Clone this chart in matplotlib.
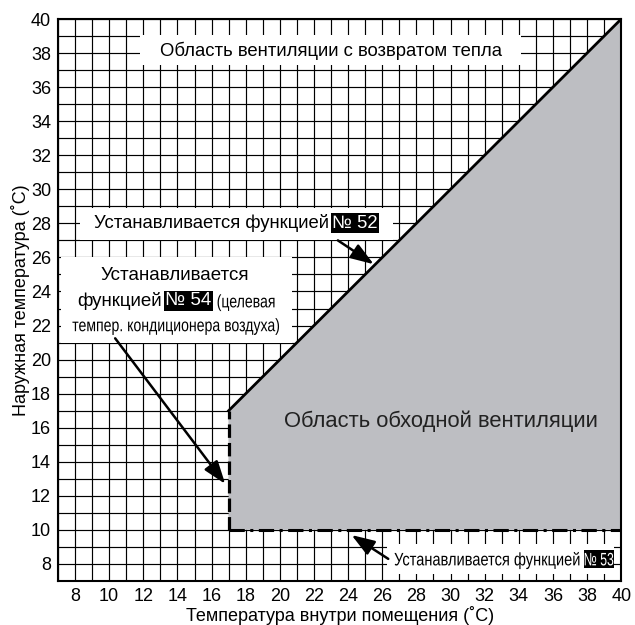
"""Bypass / heat recovery ventilation area chart."""
import matplotlib
matplotlib.use("Agg")
import matplotlib.pyplot as plt
from matplotlib.patches import Rectangle, Polygon, PathPatch
from matplotlib.textpath import TextPath
from matplotlib.font_manager import FontProperties
from matplotlib.transforms import Affine2D, ScaledTranslation

plt.rcParams['font.family'] = ['Liberation Sans', 'DejaVu Sans']

# data
indoor_ticks = list(range(8, 41, 2))
outdoor_ticks = list(range(8, 41, 2))
axis_min, axis_max = 7, 40
indoor_setpoint = 17     # function No 54
outdoor_lower = 10       # function No 53
diag_indoor = [17, 40]   # function No 52 (outdoor = indoor)
diag_outdoor = [17, 40]

fig = plt.figure(figsize=(6.35, 6.25), dpi=100)
ax = fig.add_axes([0.0913, 0.0704, 0.887, 0.8992])
ax.set_xlim(axis_min, axis_max)
ax.set_ylim(axis_min, axis_max)

ax.set_xticks(indoor_ticks)
ax.set_yticks(outdoor_ticks)
ax.set_xticks(range(axis_min, axis_max + 1), minor=True)
ax.set_yticks(range(axis_min, axis_max + 1), minor=True)
ax.tick_params(which='both', length=0, labelsize=13, pad=5)
ax.grid(which='both', color='black', linewidth=0.85, zorder=1)
ax.set_axisbelow(True)
for s in ax.spines.values():
    s.set_linewidth(1.5)
    s.set_zorder(6)

ax.set_xlabel("Температура внутри помещения (˚C)", fontsize=13, labelpad=1)
ax.set_ylabel("Наружная температура (˚C)", fontsize=13, labelpad=1)

# bypass area
poly = Polygon([(indoor_setpoint, outdoor_lower), (diag_indoor[0], diag_outdoor[0]),
                (diag_indoor[1], diag_outdoor[1]), (axis_max, outdoor_lower)],
               closed=True, facecolor='#bdbec2', edgecolor='none', zorder=2)
ax.add_patch(poly)
ax.plot(diag_indoor, diag_outdoor, color='black', lw=2, zorder=3)
ax.plot([indoor_setpoint, indoor_setpoint], [outdoor_lower, diag_outdoor[0]],
        color='black', lw=2.3, linestyle=(0, (4.2, 1.6)), zorder=3)
ax.plot([indoor_setpoint, axis_max], [outdoor_lower, outdoor_lower],
        color='black', lw=2.2, linestyle=(0, (5.0, 1.8, 1.0, 1.8)), zorder=3)

ARROW = dict(arrowstyle='-|>,head_length=1.0,head_width=0.35', color='black',
             lw=1.8, mutation_scale=14, shrinkA=0, shrinkB=0)


def white_box(x0, y0, x1, y1):
    ax.add_patch(Rectangle((x0, y0), x1 - x0, y1 - y0, facecolor='white',
                           edgecolor='none', zorder=4))


def num_label(x, y, s, size):
    ax.text(x, y, s, fontsize=size, color='white', ha='center', va='center',
            zorder=5,
            bbox=dict(boxstyle='square,pad=0.08', facecolor='black', edgecolor='none'))


def narrow_text(x, y, s, size, ha='left', sx=0.78, color='black', box=False):
    """Horizontally condensed text, centred vertically on y."""
    tp = TextPath((0, 0), s, size=size, prop=FontProperties(family='Liberation Sans'))
    ext = tp.get_extents()
    w = ext.width * sx
    dx = {'left': 0, 'center': -w / 2, 'right': -w}[ha] - ext.x0 * sx
    dy = -0.36 * size
    base = Affine2D().scale(1 / 72) + fig.dpi_scale_trans + ScaledTranslation(x, y, ax.transData)
    if box:
        p = 0.06 * size
        ax.add_patch(Rectangle((dx + ext.x0 * sx - p, dy - 0.12 * size),
                               w + 2 * p, 0.98 * size, facecolor='black',
                               edgecolor='none', transform=base, zorder=5))
    ax.add_patch(PathPatch(tp, transform=Affine2D().scale(sx, 1).translate(dx, dy) + base,
                           facecolor=color, edgecolor='none', zorder=5))


# heat recovery area title
white_box(11.8, 37.3, 34.1, 39.06)
ax.text(23.0, 38.15, "Область вентиляции с возвратом тепла", fontsize=13.3,
        ha='center', va='center', zorder=5)

# function 52
white_box(8.3, 27.0, 26.6, 28.9)
ax.text(22.85, 28.0, "Устанавливается функцией", fontsize=13.3,
        ha='right', va='center', zorder=5)
num_label(24.4, 28.0, "№ 52", 13.3)
ax.annotate("", xy=(25.5, 25.6), xytext=(23.4, 27.0), arrowprops=ARROW, zorder=5)

# function 54
white_box(7.2, 21.0, 20.7, 26.0)
ax.text(13.85, 24.95, "Устанавливается", fontsize=13.5, ha='center', va='center', zorder=5)
ax.text(8.1, 23.45, "функцией", fontsize=13.5, ha='left', va='center', zorder=5)
num_label(14.65, 23.45, "№ 54", 13.5)
narrow_text(16.35, 23.45, "(целевая", 13)
narrow_text(13.9, 22.05, "темпер. кондиционера воздуха)", 13, ha='center')
ax.annotate("", xy=(16.8, 12.7), xytext=(10.35, 21.25), arrowprops=ARROW, zorder=5)

# bypass area title
ax.text(29.45, 16.4, "Область обходной вентиляции", fontsize=15.8,
        ha='center', va='center', zorder=5, color='#222222')

# function 53
white_box(26.3, 7.4, 39.55, 9.18)
narrow_text(37.55, 8.3, "Устанавливается функцией", 13, ha='right', sx=0.81)
narrow_text(38.7, 8.3, "№ 53", 13, ha='center', sx=0.68, color='white', box=True)
ax.annotate("", xy=(24.2, 9.7), xytext=(26.35, 8.3), arrowprops=ARROW, zorder=5)

fig.savefig("out.png", dpi=100)
